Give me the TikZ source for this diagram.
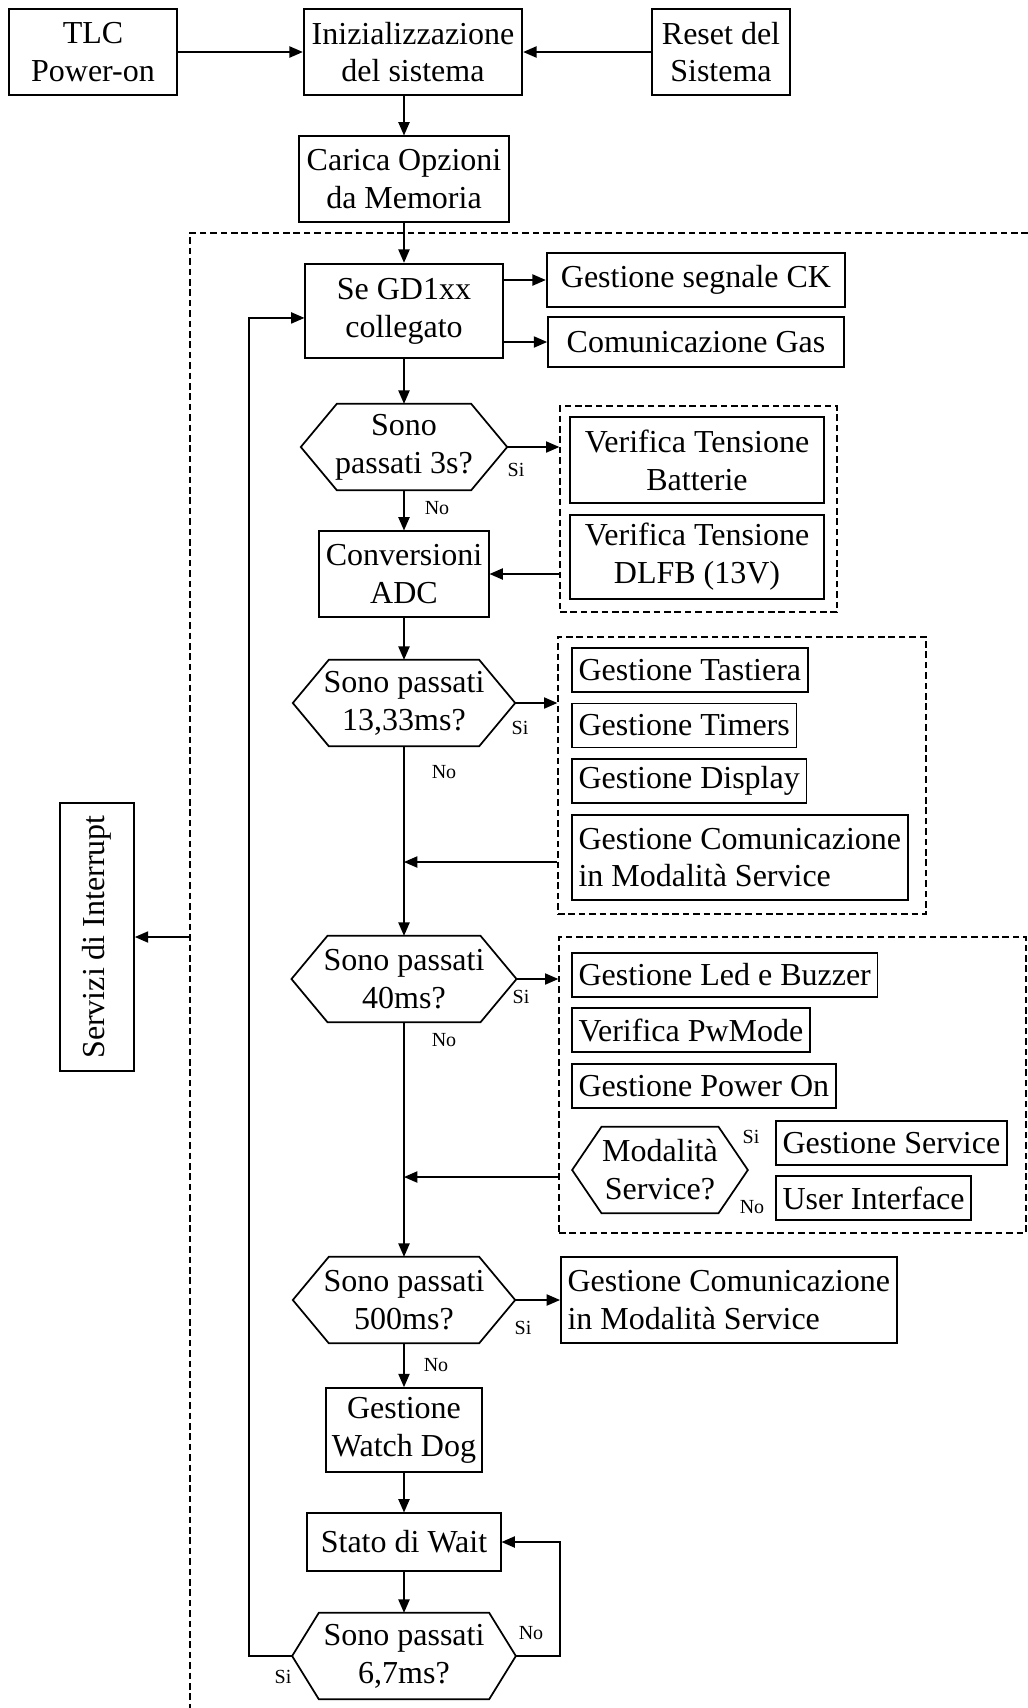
\documentclass[tikz,border=0pt]{standalone}
\usepackage{fontspec}
\setmainfont{Liberation Serif}
\usetikzlibrary{arrows.meta,fit}

\tikzset{
	txt/.style={font=\fontsize{12}{14.2}\selectfont},
	box/.style={txt, draw, line width=0.65pt, align=center, inner sep=0pt},
	item/.style={txt, draw, line width=0.65pt, align=left, anchor=west, inner xsep=2.5pt, inner ysep=0pt, minimum height=16.5pt},
	hexa/.style={txt, align=center, inner sep=0pt, minimum height=32pt,
		append after command={\pgfextra{\pgfinterruptpath
			\draw [line width=0.65pt] (\tikzlastnode.west) -- ([xshift=#1]\tikzlastnode.north west) -- ([xshift=-#1]\tikzlastnode.north east) -- (\tikzlastnode.east) -- ([xshift=-#1]\tikzlastnode.south east) -- ([xshift=#1]\tikzlastnode.south west) -- cycle;
			\endpgfinterruptpath}}},
	hexa/.default=13.5pt,
	group/.style={draw, line width=0.5pt, dash pattern=on 2.5pt off 1.4pt, inner sep=0pt},
	border/.style={line width=0.5pt, dash pattern=on 2.5pt off 1.4pt},
	lbl/.style={font=\fontsize{7.5}{9}\selectfont, inner sep=0pt},
	flow/.style={line width=0.55pt, -{Triangle[length=5pt,width=4.2pt]}}
}

\begin{document}
\begin{tikzpicture}[x=0.375pt, y=-0.375pt]
		\useasboundingbox (0,0) rectangle (1028,1708);
		\node [box, minimum width=63pt, minimum height=32pt] (tlc) at (93,52) {TLC\\Power-on};
		\node [box, minimum width=82pt, minimum height=32pt] (init) at (413,52) {Inizializzazione\\del sistema};
		\node [box, minimum width=52pt, minimum height=32pt] (reset) at (721,52) {Reset del\\Sistema};
		\node [box, minimum width=79pt, minimum height=32pt] (carica) at (404,179) {Carica Opzioni\\da Memoria};
		\draw [flow] (tlc) -- (init);
		\draw [flow] (reset) -- (init);
		\draw [flow] (init.south -| carica) -- (carica);
		\coordinate (dl) at (190,233);
		\draw [border] (1028,233) -- (dl) -- (190,1708);
		\node [box, minimum width=74pt, minimum height=35.5pt] (se) at (404,311) {Se GD1xx\\collegato};
		\node [box, minimum width=112pt, minimum height=20.5pt] (ck) at (696,280) {Gestione segnale CK};
		\node [box, minimum width=111pt, minimum height=18.5pt] (gas) at (696,342) {Comunicazione Gas};
		\draw [flow] (carica) -- (se);
		\draw [flow] (se.east |- ck) -- (ck);
		\draw [flow] (se.east |- gas) -- (gas);
		\node [hexa, minimum width=77pt] (h3s) at (404,447) {Sono\\passati 3s?};
		\draw [flow] (se) -- (h3s);
		\node [box, minimum width=95pt, minimum height=32pt] (batt) at (697,460) {Verifica Tensione\\Batterie};
		\node [box, minimum width=95pt, minimum height=31.5pt] (dlfb) at (697,557) {Verifica Tensione\\DLFB (13V)};
		\node [group, fit={(560,406) (837,612)}] (grp2) {};
		\node [box, minimum width=63.5pt, minimum height=32pt] (conv) at (404,574) {Conversioni\\ADC};
		\draw [flow] (h3s.east) -- (h3s.east -| grp2.west);
		\draw [flow] (h3s) -- (conv);
		\draw [flow] (conv.east -| grp2.west) -- (conv.east);
		\node [lbl] (si1) at (516,470) {Si};
		\node [lbl] (no1) at (437,508) {No};
		\node [hexa, minimum width=83pt] (h13) at (404,703) {Sono passati\\13,33ms?};
		\draw [flow] (conv) -- (h13);
		\node [item] (tast) at (571,670) {Gestione Tastiera};
		\node [item] (timers) at (571,725.5) {Gestione Timers};
		\node [item] (display) at (571,781) {Gestione Display};
		\node [item, minimum height=32pt] (comm1) at (571,857.5) {Gestione Comunicazione\\in Modalità Service};
		\node [group, fit={(558,637) (926,914)}] (grp3) {};
		\draw [flow] (h13.east) -- (h13.east -| grp3.west);
		\coordinate (j1) at (404,862);
		\draw [flow] (j1 -| grp3.west) -- (j1);
		\node [lbl] (si2) at (520,728) {Si};
		\node [lbl] (no2) at (444,772) {No};
		\node [hexa, minimum width=84pt] (h40) at (404,979) {Sono passati\\40ms?};
		\draw [flow] (h13) -- (h40);
		\node [item] (led) at (571,975) {Gestione Led e Buzzer};
		\node [item] (pwm) at (571,1030) {Verifica PwMode};
		\node [item] (pon) at (571,1086) {Gestione Power On};
		\node [hexa=11pt, minimum width=65.5pt] (modal) at (660,1170) {Modalità\\Service?};
		\node [item] (serv) at (775,1143) {Gestione Service};
		\node [item] (ui) at (775,1198) {User Interface};
		\node [lbl] (si4) at (751,1137) {Si};
		\node [lbl] (no4) at (752,1207) {No};
		\node [group, fit={(559,937) (1026,1233)}] (grp4) {};
		\draw [flow] (h40.east) -- (h40.east -| grp4.west);
		\coordinate (j2) at (404,1177);
		\draw [flow] (j2 -| grp4.west) -- (j2);
		\node [lbl] (si3) at (521,997) {Si};
		\node [lbl] (no3) at (444,1040) {No};
		\node [hexa, minimum width=83pt] (h500) at (404,1300) {Sono passati\\500ms?};
		\draw [flow] (h40) -- (h500);
		\node [item, minimum height=32pt] (comm2) at (560,1300) {Gestione Comunicazione\\in Modalità Service};
		\draw [flow] (h500) -- (comm2);
		\node [lbl] (si5) at (523,1328) {Si};
		\node [lbl] (no5) at (436,1365) {No};
		\node [box, minimum width=58.5pt, minimum height=31.5pt] (wdog) at (404,1430) {Gestione\\Watch Dog};
		\node [box, minimum width=72.5pt, minimum height=21.5pt] (wait) at (404,1542) {Stato di Wait};
		\node [hexa=10pt, minimum width=83.5pt] (h67) at (404,1656) {Sono passati\\6,7ms?};
		\draw [flow] (h500) -- (wdog);
		\draw [flow] (wdog) -- (wait);
		\draw [flow] (wait) -- (h67);
		\draw [flow] (h67.east) -- ++(44,0) |- (wait.east);
		\draw [flow] (h67.west) -- ++(-43,0) |- ([yshift=-2.6pt]se.west);
		\node [lbl] (no6) at (531,1633) {No};
		\node [lbl] (si6) at (283,1677) {Si};
		\node [box, rotate=90, minimum width=100.5pt, minimum height=27.75pt] (irq) at (97,937) {Servizi di Interrupt};
		\draw [flow] (dl |- irq.south) -- (irq.south);
	\end{tikzpicture}
\end{document}
